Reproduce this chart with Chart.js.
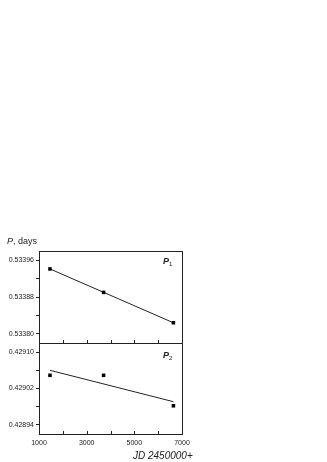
<!DOCTYPE html>
<html>
<head>
<meta charset="utf-8">
<script src="https://cdn.jsdelivr.net/npm/chart.js@4"></script>
<style>
  body { margin: 0; background: #fff; width: 327px; height: 462px; position: relative; overflow: hidden; font-family: "Liberation Sans", Arial, sans-serif; }
  canvas { position: absolute; left: 0; top: 0; }
  .lbl { position: absolute; color: #222; white-space: nowrap; }
  .lbl sub { font-size: 6px; font-weight: normal; vertical-align: -2px; }
</style>
</head>
<body>
<canvas id="upper" width="327" height="350"></canvas>
<canvas id="lower" width="327" height="462"></canvas>
<div class="lbl" style="left:7px; top:236px; font-size:9px;"><i>P</i>, days</div>
<div class="lbl" style="left:163px; top:256px; font-size:9px; font-weight:bold;"><i>P</i><sub>1</sub></div>
<div class="lbl" style="left:163px; top:350px; font-size:9px; font-weight:bold;"><i>P</i><sub>2</sub></div>
<div class="lbl" style="left:133px; top:450px; font-size:10px; font-style:italic;">JD 2450000+</div>
<script>
const jd = [1460, 3710, 6640];
const period1 = [0.533941, 0.533890, 0.533824];
const period2 = [0.429049, 0.429049, 0.428982];

// linear fits, end points
const fitJd = [1460, 6640];
const fit1 = [0.533941, 0.533824];
const fit2 = [0.429060, 0.428991];

const xTicks = [1000, 2000, 3000, 4000, 5000, 6000, 7000];
const xLabels = [1000, 3000, 5000, 7000];
const yTicks1 = [0.53380, 0.53384, 0.53388, 0.53392, 0.53396];
const yLabels1 = [0.53380, 0.53388, 0.53396];
const yTicks2 = [0.42894, 0.42898, 0.42902, 0.42906, 0.42910];
const yLabels2 = [0.42894, 0.42902, 0.42910];

const ink = '#222';

// frame around the plot + x ticks pointing inward
const framePlugin = {
    id: 'frame',
    afterDraw(chart) {
        const {ctx, chartArea} = chart;
        const xs = chart.scales.x;
        ctx.save();
        ctx.strokeStyle = ink;
        ctx.lineWidth = 1;
        ctx.strokeRect(chartArea.left + 0.5, chartArea.top + 0.5, chartArea.right - chartArea.left, chartArea.bottom - chartArea.top);
        ctx.beginPath();
        xTicks.forEach(v => {
            const px = Math.round(xs.getPixelForValue(v)) + 0.5;
            ctx.moveTo(px, chartArea.bottom);
            ctx.lineTo(px, chartArea.bottom - 3);
        });
        ctx.stroke();
        ctx.restore();
    }
};

function isLabel(list, v) {
    return list.some(l => Math.abs(l - v) < 1e-7);
}

function makePanel(canvasId, values, fit, yMin, yMax, yTicks, yLabels, showX, padding) {
    return new Chart(document.getElementById(canvasId).getContext('2d'), {
        type: 'scatter',
        data: {
            datasets: [
                {
                    data: jd.map((x, i) => ({x: x, y: values[i]})),
                    pointStyle: 'rect',
                    pointRadius: 2.5,
                    backgroundColor: '#000',
                    borderColor: '#000',
                    borderWidth: 0,
                    showLine: false
                },
                {
                    data: fitJd.map((x, i) => ({x: x, y: fit[i]})),
                    showLine: true,
                    borderColor: ink,
                    borderWidth: 1,
                    pointRadius: 0
                }
            ]
        },
        options: {
            responsive: false,
            animation: false,
            layout: {padding: padding},
            plugins: {legend: {display: false}, tooltip: {enabled: false}},
            scales: {
                x: {
                    type: 'linear',
                    min: 1000,
                    max: 7000,
                    display: showX,
                    afterBuildTicks: s => { s.ticks = xTicks.map(v => ({value: v})); },
                    afterFit: s => { s.height = showX ? 28 : 0; },
                    grid: {display: false, drawTicks: false},
                    border: {display: false},
                    ticks: {
                        color: ink,
                        padding: 5,
                        maxRotation: 0,
                        autoSkip: false,
                        font: {family: '"Liberation Sans", Arial, sans-serif', size: 7},
                        callback: v => isLabel(xLabels, v) ? String(v) : ''
                    }
                },
                y: {
                    type: 'linear',
                    min: yMin,
                    max: yMax,
                    afterBuildTicks: s => { s.ticks = yTicks.map(v => ({value: v})); },
                    afterFit: s => { s.width = 39; },
                    grid: {drawOnChartArea: false, drawTicks: true, tickLength: 3, color: ink},
                    border: {display: true, color: ink},
                    ticks: {
                        color: ink,
                        padding: 2,
                        autoSkip: false,
                        font: {family: '"Liberation Sans", Arial, sans-serif', size: 7},
                        callback: v => isLabel(yLabels, v) ? v.toFixed(5) : ''
                    }
                }
            }
        },
        plugins: [framePlugin]
    });
}

makePanel('upper', period1, fit1, 0.53378, 0.53398, yTicks1, yLabels1, false,
    {left: 0, right: 145, top: 251, bottom: 7});
makePanel('lower', period2, fit2, 0.42892, 0.42912, yTicks2, yLabels2, true,
    {left: 0, right: 145, top: 343, bottom: 0});
</script>
</body>
</html>
